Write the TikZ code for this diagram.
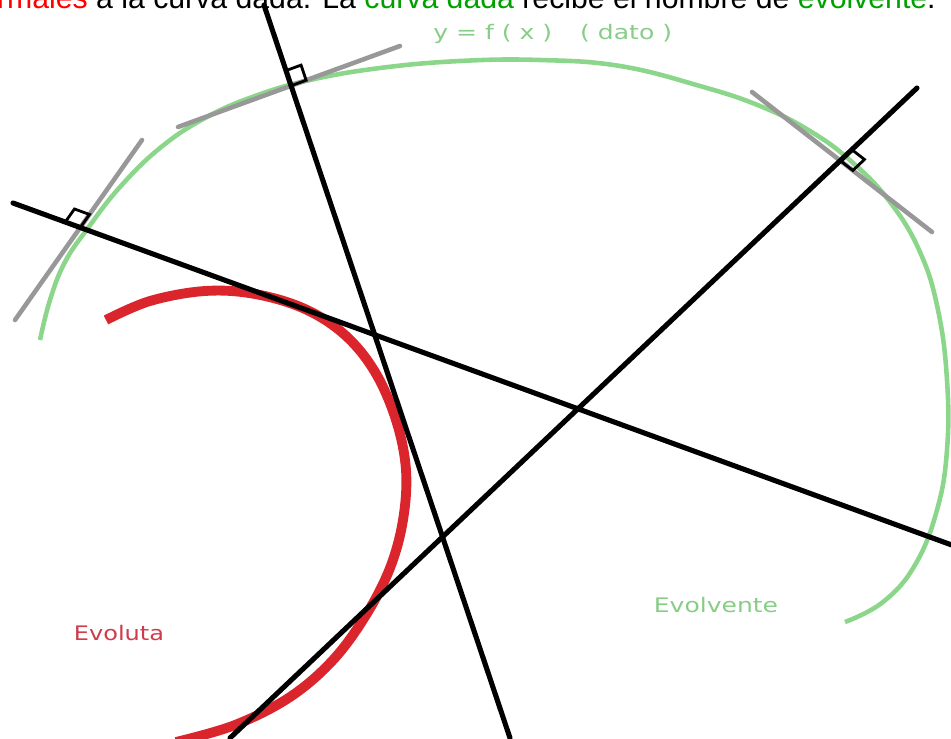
\documentclass[tikz,border=0pt]{standalone}
\usepackage{fontspec}
\setmainfont{Liberation Sans}
\newfontfamily\labfont{DejaVu Sans}
\usepackage{xcolor}
\usepackage{tikz}
\usetikzlibrary{calc, positioning}
\definecolor{evored}{RGB}{218,37,45}
\definecolor{evogreen}{RGB}{140,214,140}
\definecolor{tangray}{RGB}{152,152,152}
\definecolor{labred}{RGB}{205,60,75}
\definecolor{labgreen}{RGB}{135,205,135}
\definecolor{txtred}{RGB}{255,0,0}
\definecolor{txtgreen}{RGB}{0,160,0}
\tikzset{
  normal/.style={line width=2.9pt, black, line cap=round},
  tangent/.style={line width=2.6pt, tangray, line cap=round},
  evolvente/.style={line width=2.6pt, evogreen},
  evoluta/.style={line width=5.6pt, evored},
  rightang/.style={line width=1.6pt, black},
  curvelabel/.style={font=\labfont\fontsize{11.4pt}{13pt}\selectfont, inner sep=0pt},
}

\begin{document}
\begin{tikzpicture}[x=0.02cm, y=-0.02cm]
  \useasboundingbox (0,0) rectangle (951,738);
  \clip (0,0) rectangle (951,738);
  \def\sq{0.32cm}
  \node[font=\fontsize{17.2pt}{19pt}\selectfont, anchor=base east, inner sep=0pt] (intro) at (936,8)
    {\textcolor{txtred}{normales} a la curva dada. La \textcolor{txtgreen}{curva dada} recibe el nombre de \textcolor{txtgreen}{evolvente}.};
  % evolvente y evoluta
  \draw[evolvente] plot[smooth, tension=0.7] coordinates {(40,340) (50,300) (65,262) (88,228) (120,187) (160,148) (205,118) (255,96) (310,80) (380,68) (460,61) (540,60) (620,66) (700,86) (760,106) (810,131) (852,162) (890,202) (920,252) (938,310) (947,380) (947,450) (937,510) (915,565) (883,602) (845,622)};
  \draw[evoluta] plot[smooth, tension=0.6] coordinates {(106,320) (150,301) (205,291) (255,294) (305,309) (345,335) (375,372) (396,420) (406,470) (403,520) (390,568) (366,615) (333,660) (290,697) (235,725) (176,742)};
  % rectas tangentes
  \coordinate (G1a) at (15,320);
  \coordinate (G1b) at (142,140);
  \coordinate (G2a) at (178,127);
  \coordinate (G2b) at (400,46);
  \coordinate (G3a) at (752,92);
  \coordinate (G3b) at (932,232);
  \draw[tangent] (G1a) -- (G1b);
  \draw[tangent] (G2a) -- (G2b);
  \draw[tangent] (G3a) -- (G3b);
  % rectas normales
  \coordinate (L1a) at (13,203);
  \coordinate (L1b) at (960,548);
  \coordinate (L2a) at (264,5);
  \coordinate (L2b) at (510,738);
  \coordinate (L3a) at (230,738);
  \coordinate (L3b) at (917,88);
  \draw[normal] (L1a) -- (L1b);
  \draw[normal] (L2a) -- (L2b);
  \draw[normal] (L3a) -- (L3b);
  % angulos rectos
  \coordinate (I1) at (intersection of L1a--L1b and G1a--G1b);
  \coordinate (I2) at (intersection of L2a--L2b and G2a--G2b);
  \coordinate (I3) at (intersection of L3a--L3b and G3a--G3b);
  \coordinate (P1) at ($(I1)!\sq!(L1a)$);
  \coordinate (Q1) at ($(I1)!\sq!(G1b)$);
  \coordinate (P2) at ($(I2)!\sq!(L2a)$);
  \coordinate (Q2) at ($(I2)!\sq!(G2b)$);
  \coordinate (P3) at ($(I3)!\sq!(L3b)$);
  \coordinate (Q3) at ($(I3)!\sq!(G3b)$);
  \draw[rightang] (I1) -- (P1) -- ($(P1)+(Q1)-(I1)$) -- (Q1) -- cycle;
  \draw[rightang] (I2) -- (P2) -- ($(P2)+(Q2)-(I2)$) -- (Q2) -- cycle;
  \draw[rightang] (I3) -- (P3) -- ($(P3)+(Q3)-(I3)$) -- (Q3) -- cycle;
  % etiquetas
  \node[curvelabel, text=labgreen, anchor=west] (dato) at (433,34) {\scalebox{1.25}[1]{y = f ( x )\hspace{0.45cm}( dato )}};
  \node[curvelabel, text=labred] (evolutalabel) at (119,633) {\scalebox{1.2}[1]{Evoluta}};
  \node[curvelabel, text=labgreen] (evolventelabel) at (716,605) {\scalebox{1.25}[1]{Evolvente}};
\end{tikzpicture}
\end{document}
